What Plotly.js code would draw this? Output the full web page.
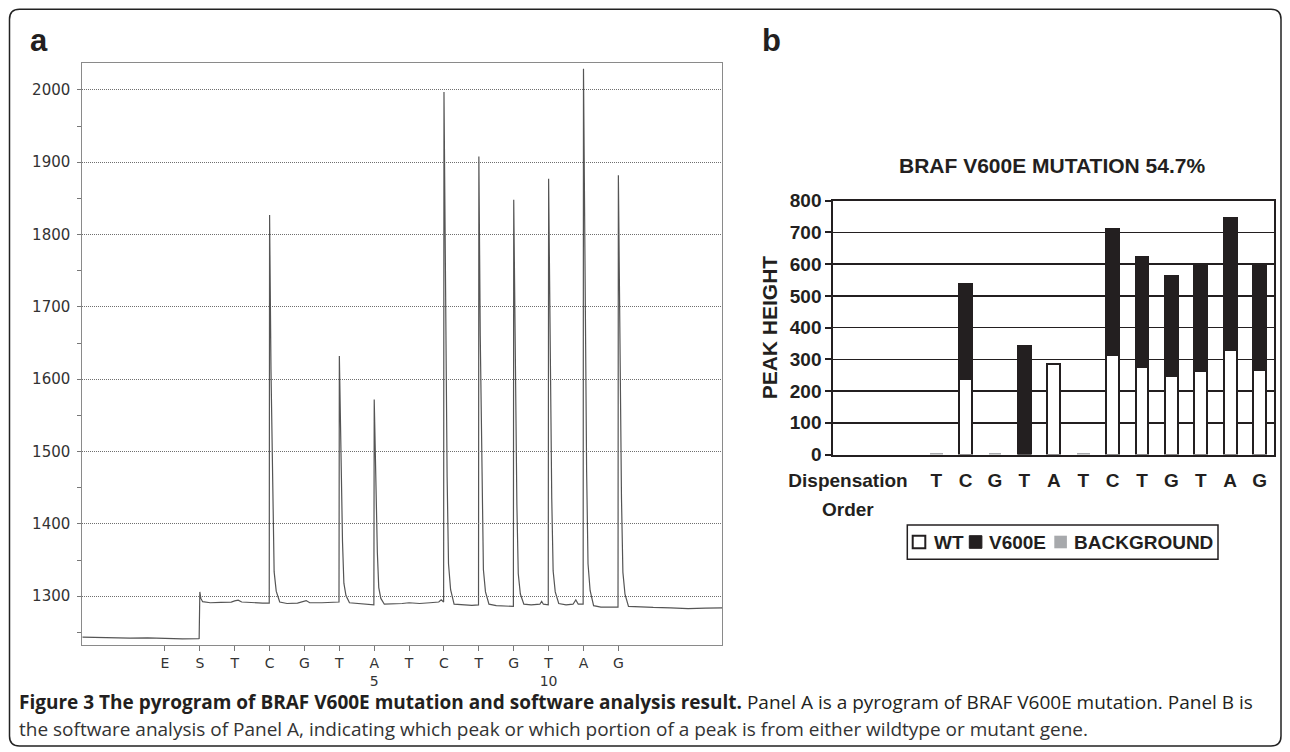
<!DOCTYPE html>
<html>
<head>
<meta charset="utf-8">
<script src="https://cdn.plot.ly/plotly-3.0.1.min.js"></script>
<style>html,body{margin:0;padding:0;background:#fff;}#chart{width:1290px;height:752px;}</style>
</head>
<body>
<div id="chart"></div>
<script>
// ---------- Panel a: pyrogram (x = dispensation number, E=-1, S=0) ----------
const pyroTickVals = [-1,0,1,2,3,4,5,6,7,8,9,10,11,12];
const pyroTickText = ["E","S","T","C","G","T","A<br>5","T","C","T","G","T<br>10","A","G"];
const pyroX = [
 -3.37,-3.0,-2.5,-2.0,-1.5,-1.0,-0.5,-0.03,-0.02,0.0,0.03,0.08,0.3,0.6,0.9,1.0,1.1,1.2,1.5,1.8,1.99,
 2.00,2.04,2.09,2.13,2.19,2.29,2.5,2.8,3.05,3.15,3.5,3.8,3.99,
 4.00,4.04,4.09,4.13,4.19,4.29,4.5,4.8,4.99,
 5.00,5.04,5.09,5.13,5.19,5.29,5.5,5.8,6.0,6.3,6.6,6.85,6.92,6.99,
 7.00,7.04,7.09,7.13,7.19,7.29,7.5,7.8,7.99,
 8.00,8.04,8.09,8.13,8.19,8.29,8.5,8.8,8.99,
 9.00,9.04,9.09,9.13,9.19,9.29,9.5,9.75,9.8,9.85,9.99,
 10.00,10.04,10.09,10.13,10.19,10.29,10.5,10.7,10.78,10.85,10.99,
 11.00,11.04,11.09,11.13,11.19,11.29,11.5,11.8,11.99,
 12.00,12.04,12.09,12.13,12.19,12.29,12.6,13.0,13.5,14.0,14.5,14.98
];
const pyroY = [
 1243.5,1243,1242.5,1242,1242.5,1241.5,1241,1241.5,1241,1306,1297,1292.5,1291,1291.5,1292,1293.5,1294.5,1292,1291,1290.5,1290.5,
 1827,1613,1425,1334,1307,1292,1290,1290.5,1294,1291,1291,1292,1292,
 1632,1495,1376,1318,1301,1291,1290,1289,1288,
 1572,1459,1360,1312,1297,1289,1289,1290,1291,1290,1291,1292,1295,1292,
 1997,1713,1465,1345,1309,1289,1288,1287.5,1288,
 1908,1660,1442,1337,1306,1289,1287,1286,1286,
 1848,1623,1427,1331,1303,1289,1288,1289,1293,1289,1288,
 1877,1641,1435,1335,1306,1290,1288,1289,1295,1289,1289,
 2029,1732,1472,1345,1308,1287,1285,1285,1285,
 1882,1643,1434,1333,1303,1286,1285,1284.5,1284,1283,1283.5,1284
];

// ---------- Panel b: peak heights (null = no bar) ----------
const slotLabels = ["Dispensation","","","T","C","G","T","A","T","C","T","G","T","A","G"];
const slots = [1,2,3,4,5,6,7,8,9,10,11,12,13,14,15];
const wtValues       = [null,null,null,null,238,null,null,284,null,313,276,249,263,329,266];
const v600eValues    = [null,null,null,null,299,null,342,null,null,397,348,314,330,416,333];
const backgroundVals = [null,null,null,4,null,4,null,null,4,null,null,null,null,null,null];
const legendNames = ["WT","V600E","BACKGROUND"];

const W = 1290, H = 752;
const px = x => x / W;
const py = y => 1 - y / H;

const BLACK = '#231f20';
const GREY = '#a7a9ac';
const boldFont = (size) => ({family: 'Liberation Sans, Arial, sans-serif', size: size, color: BLACK, weight: 700});

const traces = [
  {type:'scatter', mode:'lines', x: pyroX, y: pyroY, xaxis:'x', yaxis:'y',
   line:{color:'#555', width:1.2}, showlegend:false, hoverinfo:'skip'},
  {type:'bar', name: legendNames[0], x: slots, y: wtValues, xaxis:'x2', yaxis:'y2', width:0.44,
   marker:{color:'#ffffff', line:{color:BLACK, width:2}}, showlegend:false},
  {type:'bar', name: legendNames[1], x: slots, y: v600eValues, xaxis:'x2', yaxis:'y2', width:0.44,
   marker:{color:BLACK, line:{color:BLACK, width:2}}, showlegend:false},
  {type:'bar', name: legendNames[2], x: slots, y: backgroundVals, xaxis:'x2', yaxis:'y2', width:0.44,
   marker:{color:GREY, line:{color:GREY, width:0}}, showlegend:false}
];

// rounded outer frame
const L = 9.5, T = 9.3, R = 1281, B = 746, r = 10;
const framePath = `M ${px(L+r)},${py(T)} L ${px(R-r)},${py(T)} Q ${px(R)},${py(T)} ${px(R)},${py(T+r)} L ${px(R)},${py(B-r)} Q ${px(R)},${py(B)} ${px(R-r)},${py(B)} L ${px(L+r)},${py(B)} Q ${px(L)},${py(B)} ${px(L)},${py(B-r)} L ${px(L)},${py(T+r)} Q ${px(L)},${py(T)} ${px(L+r)},${py(T)} Z`;

// custom legend geometry (pixels)
const legBox = {x0:907.3, x1:1218, y0:525, y1:559.3};
const legY = 542;
const legSq = [{x:912.7, fill:'#ffffff', line:BLACK, lw:2}, {x:969.3, fill:BLACK, line:BLACK, lw:1}, {x:1054.3, fill:GREY, line:GREY, lw:0}];
const legTextX = [931.7, 987.3, 1072.3];

const shapes = [
  {type:'path', xref:'paper', yref:'paper', path: framePath,
   line:{color:'#222', width:1.5}, fillcolor:'rgba(0,0,0,0)', layer:'above'},
  {type:'rect', xref:'paper', yref:'paper', x0:px(legBox.x0), x1:px(legBox.x1), y0:py(legBox.y1), y1:py(legBox.y0),
   line:{color:BLACK, width:1.5}, fillcolor:'#ffffff', layer:'above'}
];
legSq.forEach(s => shapes.push({type:'rect', xref:'paper', yref:'paper',
  x0:px(s.x), x1:px(s.x+12.6), y0:py(legY+6.3), y1:py(legY-6.3),
  line:{color:s.line, width:s.lw}, fillcolor:s.fill, layer:'above'}));

const annotations = [
  {text:'a', xref:'paper', yref:'paper', x: px(28), y: py(40), xanchor:'left', yanchor:'middle',
   showarrow:false, font:{family:'Liberation Sans, Arial, sans-serif', size:31, color:BLACK, weight:700}},
  {text:'b', xref:'paper', yref:'paper', x: px(760), y: py(40), xanchor:'left', yanchor:'middle',
   showarrow:false, font:{family:'Liberation Sans, Arial, sans-serif', size:31, color:BLACK, weight:700}},
  {text:'BRAF V600E MUTATION 54.7%', xref:'paper', yref:'paper', x: px(1051.7), y: py(166),
   xanchor:'center', yanchor:'middle', showarrow:false, font: boldFont(21)},
  {text:'Order', xref:'x2', yref:'paper', x: 1, y: py(509), xanchor:'center', yanchor:'middle',
   showarrow:false, font: boldFont(19)},
  {text:'<b>Figure 3 The pyrogram of BRAF V600E mutation and software analysis result.</b> Panel A is a pyrogram of BRAF V600E mutation. Panel B is',
   xref:'paper', yref:'paper', x: px(17), y: py(702), xanchor:'left', yanchor:'middle',
   showarrow:false, font:{family:'Open Sans, sans-serif', size:19, color:BLACK}},
  {text:'the software analysis of Panel A, indicating which peak or which portion of a peak is from either wildtype or mutant gene.',
   xref:'paper', yref:'paper', x: px(17), y: py(729), xanchor:'left', yanchor:'middle',
   showarrow:false, font:{family:'Open Sans, sans-serif', size:19, color:'#333'}}
];
legendNames.forEach((n, i) => annotations.push({text:n, xref:'paper', yref:'paper',
  x: px(legTextX[i]), y: py(legY), xanchor:'left', yanchor:'middle', showarrow:false, font: boldFont(19)}));

const layout = {
  width: W, height: H,
  margin: {l:0, r:0, t:0, b:0, pad:0},
  paper_bgcolor:'#ffffff', plot_bgcolor:'#ffffff',
  barmode:'stack',
  showlegend: false,
  xaxis: {domain:[px(82.3), px(722.3)], anchor:'y', range:[-3.37, 14.98],
          tickmode:'array', tickvals: pyroTickVals, ticktext: pyroTickText,
          ticks:'outside', ticklen:5, tickcolor:'#777', tickwidth:1,
          showline:true, linecolor:'#8a8a8a', linewidth:1, mirror:true,
          showgrid:false, zeroline:false, automargin:false, fixedrange:true,
          tickfont:{family:'DejaVu Sans, sans-serif', size:14, color:'#333'}},
  yaxis: {domain:[py(645), py(63.3)], anchor:'x', range:[1232.6, 2036.7],
          tick0:0, dtick:100, ticks:'outside', ticklen:4, tickcolor:'#777',
          minor:{dtick:50, ticks:'outside', ticklen:4, tickcolor:'#777', showgrid:false},
          showgrid:true, gridcolor:'#6f6f6f', griddash:'1px,1px', gridwidth:1,
          showline:true, linecolor:'#8a8a8a', linewidth:1, mirror:true,
          zeroline:false, automargin:false, fixedrange:true, ticklabelstandoff:4,
          tickfont:{family:'DejaVu Sans, sans-serif', size:15, color:'#333'}},
  xaxis2: {domain:[px(833.3), px(1274.3)], anchor:'y2', range:[0.5, 15.5],
          tickmode:'array', tickvals: slots, ticktext: slotLabels, ticks:'',
          showline:true, linecolor:BLACK, linewidth:2, mirror:true,
          showgrid:false, zeroline:false, automargin:false, fixedrange:true,
          ticklabelstandoff:8, tickfont: boldFont(19)},
  yaxis2: {domain:[py(454.5), py(200.7)], anchor:'x2', range:[0, 800], dtick:100,
          ticks:'outside', ticklen:6, tickwidth:2, tickcolor:BLACK,
          showgrid:true, gridcolor:BLACK, gridwidth:1.6,
          showline:true, linecolor:BLACK, linewidth:2, mirror:true,
          zeroline:false, automargin:false, fixedrange:true,
          tickfont: boldFont(19),
          title:{text:'PEAK HEIGHT', font: boldFont(21), standoff:6}},
  shapes: shapes,
  annotations: annotations
};

Plotly.newPlot('chart', traces, layout, {staticPlot:true, displayModeBar:false});
</script>
</body>
</html>
